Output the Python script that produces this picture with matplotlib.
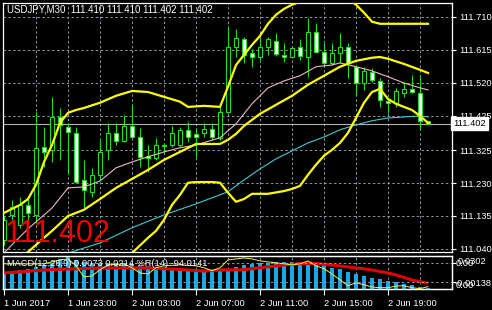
import matplotlib
matplotlib.use("Agg")
import matplotlib.pyplot as plt
from matplotlib.transforms import blended_transform_factory

plt.rcParams['font.family'] = ['Liberation Sans', 'DejaVu Sans']

# ---------------- data ----------------
header_text = "USDJPY,M30  111.410 111.410 111.402 111.402"
big_price_text = "111.402"
last_price = 111.402
macd_text = "MACD(12,26,9) 0.0073 0.0214 %R(14) -94.0141"

price_ticks = [111.710, 111.615, 111.520, 111.425, 111.325, 111.230, 111.135, 111.040]
time_tick_idx = [0, 8, 16, 24, 32, 40, 48]
time_tick_labels = ["1 Jun 2017", "1 Jun 23:00", "2 Jun 03:00", "2 Jun 07:00",
                    "2 Jun 11:00", "2 Jun 15:00", "2 Jun 19:00"]

opens = [111.066, 111.138, 111.109, 111.167, 111.138, 111.335, 111.326, 111.421, 111.392, 111.375,
         111.239, 111.205, 111.254, 111.326, 111.375, 111.352, 111.395, 111.363, 111.309, 111.303,
         111.337, 111.340, 111.340, 111.384, 111.372, 111.375, 111.387, 111.361, 111.436, 111.623,
         111.646, 111.606, 111.594, 111.623, 111.641, 111.600, 111.594, 111.623, 111.594, 111.667,
         111.609, 111.577, 111.606, 111.623, 111.566, 111.519, 111.551, 111.525, 111.467, 111.462,
         111.491, 111.502, 111.491, 111.410]
highs = [111.138, 111.181, 111.190, 111.190, 111.436, 111.392, 111.479, 111.447, 111.404, 111.392,
         111.297, 111.274, 111.355, 111.404, 111.404, 111.427, 111.456, 111.389, 111.340, 111.361,
         111.346, 111.395, 111.392, 111.407, 111.389, 111.404, 111.404, 111.450, 111.681, 111.675,
         111.652, 111.618, 111.649, 111.652, 111.664, 111.635, 111.623, 111.646, 111.707, 111.693,
         111.635, 111.635, 111.664, 111.635, 111.571, 111.566, 111.563, 111.534, 111.476, 111.505,
         111.522, 111.542, 111.542, 111.410]
lows = [111.052, 111.124, 111.100, 111.124, 111.115, 111.277, 111.291, 111.297, 111.259, 111.231,
        111.158, 111.190, 111.239, 111.297, 111.340, 111.349, 111.361, 111.277, 111.262, 111.297,
        111.317, 111.335, 111.335, 111.349, 111.306, 111.363, 111.355, 111.355, 111.433, 111.594,
        111.577, 111.566, 111.586, 111.600, 111.597, 111.580, 111.592, 111.586, 111.537, 111.606,
        111.566, 111.571, 111.577, 111.534, 111.485, 111.499, 111.522, 111.450, 111.433, 111.450,
        111.479, 111.490, 111.384, 111.402]
closes = [111.124, 111.161, 111.167, 111.144, 111.332, 111.320, 111.421, 111.398, 111.378, 111.233,
          111.210, 111.254, 111.320, 111.375, 111.352, 111.395, 111.363, 111.306, 111.303, 111.340,
          111.340, 111.375, 111.384, 111.363, 111.363, 111.387, 111.363, 111.436, 111.623, 111.649,
          111.600, 111.594, 111.623, 111.646, 111.603, 111.594, 111.620, 111.597, 111.667, 111.609,
          111.577, 111.606, 111.623, 111.577, 111.519, 111.554, 111.528, 111.470, 111.462, 111.496,
          111.502, 111.493, 111.410, 111.402]

bb_upper_idx = [0, 2, 3, 4, 5, 6, 7, 8, 9, 10, 12, 14, 16, 18, 20, 22, 23, 25, 27, 28, 29, 30, 31,
                32, 33, 34, 35, 36, 37, 38, 40, 42, 43, 44, 45, 46, 47, 50, 53]
bb_upper = [111.144, 111.167, 111.184, 111.225, 111.291, 111.340, 111.404, 111.433, 111.441, 111.447,
            111.462, 111.482, 111.496, 111.493, 111.479, 111.465, 111.450, 111.453, 111.450, 111.508,
            111.571, 111.600, 111.629, 111.655, 111.690, 111.716, 111.733, 111.745, 111.753, 111.768,
            111.774, 111.774, 111.762, 111.745, 111.722, 111.696, 111.690, 111.690, 111.690]

bb_mid_idx = [2, 3, 5, 6, 8, 10, 12, 14, 16, 18, 20, 22, 24, 26, 27, 28, 29, 30, 32, 34, 36, 38, 40,
              42, 44, 46, 47, 48, 50, 52, 53]
bb_mid = [111.014, 111.031, 111.072, 111.092, 111.135, 111.153, 111.184, 111.216, 111.242, 111.268,
          111.297, 111.320, 111.343, 111.343, 111.343, 111.355, 111.372, 111.395, 111.430, 111.456,
          111.482, 111.514, 111.540, 111.566, 111.583, 111.592, 111.594, 111.589, 111.574, 111.557,
          111.548]

bb_low_idx = [15, 16, 18, 19, 20, 21, 22, 23, 24, 26, 27, 28, 29, 30, 31, 33, 35, 36, 37, 38, 39, 40,
              41, 42, 43, 44, 45, 46, 47, 48, 49, 50, 51, 52, 53]
bb_low = [111.005, 111.028, 111.072, 111.092, 111.124, 111.167, 111.196, 111.231, 111.233, 111.233,
          111.231, 111.202, 111.176, 111.184, 111.199, 111.199, 111.207, 111.213, 111.222, 111.254,
          111.283, 111.309, 111.326, 111.346, 111.375, 111.418, 111.462, 111.493, 111.502, 111.473,
          111.459, 111.450, 111.441, 111.424, 111.404]

ma_pink_idx = [0, 1, 3, 5, 6, 8, 10, 12, 14, 16, 18, 20, 22, 24, 27, 29, 31, 33, 35, 37, 39, 41, 42,
               44, 46, 48, 50, 52, 53]
ma_pink = [111.028, 111.052, 111.098, 111.138, 111.158, 111.216, 111.219, 111.236, 111.274, 111.291,
           111.306, 111.320, 111.332, 111.340, 111.361, 111.401, 111.459, 111.505, 111.525, 111.540,
           111.566, 111.571, 111.577, 111.566, 111.554, 111.537, 111.519, 111.505, 111.499]

ma_cyan_idx = [7, 8, 12, 16, 20, 24, 28, 30, 32, 34, 36, 38, 40, 42, 44, 46, 48, 50, 52, 53]
ma_cyan = [111.010, 111.028, 111.057, 111.101, 111.138, 111.170, 111.205, 111.239, 111.271, 111.300,
           111.323, 111.346, 111.363, 111.384, 111.398, 111.410, 111.418, 111.421, 111.424, 111.421]

macd_hist = [0.0187, 0.0194, 0.0205, 0.0216, 0.0234, 0.0256, 0.0284, 0.0327, 0.0342, 0.0313,
             0.0295, 0.0284, 0.0284, 0.0278, 0.0284, 0.0284, 0.0273, 0.0262, 0.0252, 0.0238,
             0.0227, 0.0216, 0.0208, 0.0202, 0.0194, 0.0191, 0.0187, 0.0191, 0.0219, 0.0241,
             0.0259, 0.0270, 0.0278, 0.0281, 0.0288, 0.0288, 0.0288, 0.0288, 0.0295, 0.0278,
             0.0259, 0.0230, 0.0216, 0.0187, 0.0159, 0.0144, 0.0122, 0.0105, 0.0086, 0.0072,
             0.0057, 0.0043, 0.0025, 0.0014]
macd_sig_idx = [0, 5, 8, 12, 18, 22, 25, 27, 30, 32, 35, 37, 39, 41, 43, 45, 46, 48, 49, 51, 53]
macd_sig = [0.0173, 0.0205, 0.0216, 0.0227, 0.0227, 0.0211, 0.0194, 0.0205, 0.0208, 0.0230, 0.0259,
            0.0275, 0.0275, 0.0259, 0.0238, 0.0218, 0.0205, 0.0173, 0.0151, 0.0097, 0.0062]

wpr_idx = [0, 2, 5, 7, 8, 9, 10, 11, 12, 13, 15, 16, 17, 18, 19, 20, 22, 24, 25, 26, 27, 28, 29, 30,
           31, 32, 33, 34, 35, 36, 37, 38, 39, 40, 41, 42, 43, 44, 45, 46, 47, 48, 49, 50, 51, 52, 53]
wpr = [-24, -24, -24, -12, -9, -30, -64, -61, -42, -27, -24, -36, -52, -55, -36, -30, -27, -30, -36,
       -45, -36, -12, -9, -6, -9, -15, -18, -21, -24, -27, -24, -15, -30, -39, -55, -73, -91, -82,
       -88, -95, -97, -97, -92, -91, -97, -100, -94.0141]
wpr_levels = [-20, -80]
macd_right_labels = ["0.0302", "0.00", "-0.00138", "0.00"]

# ---------------- style ----------------
W, H = 492, 310
LIME = '#1EE01E'
YELLOW = '#FFFF00'
GRID = '#8f97a3'
FS = 6.7

fig = plt.figure(figsize=(W / 100, H / 100), dpi=100, facecolor='black')


def px_axes(l, t, r, b):
    return fig.add_axes([l / W, 1 - b / H, (r - l) / W, (b - t) / H])


ax = px_axes(3, 3, 452, 252)
mx = px_axes(3, 256, 452, 289)

for a in (ax, mx):
    a.set_facecolor('black')
    for s in a.spines.values():
        s.set_color('white')
        s.set_linewidth(0.9)
    a.set_xlim(-0.125, 56)

# main window
ax.set_ylim(111.031, 111.750)
grid_x = list(range(4, 53, 4))
for gx in grid_x:
    ax.axvline(gx, color=GRID, lw=0.7, ls=(0, (2.5, 2.5)), zorder=0.5)
    mx.axvline(gx, color=GRID, lw=0.7, ls=(0, (2.5, 2.5)), zorder=0.5)
for gy in price_ticks:
    ax.axhline(gy, color=GRID, lw=0.7, ls=(0, (2.5, 2.5)), zorder=0.5)
ax.axhline(last_price, color='#b4b4b4', lw=0.8, zorder=0.6)

idx = list(range(len(opens)))
for i, o, h, l, c in zip(idx, opens, highs, lows, closes):
    ax.vlines(i, l, h, color=LIME, lw=0.8, zorder=2)
bottoms = [min(o, c) for o, c in zip(opens, closes)]
heights = [max(abs(c - o), 0.0008) for o, c in zip(opens, closes)]
faces = ['black' if c > o else 'white' for o, c in zip(opens, closes)]
ax.bar(idx, heights, bottom=bottoms, width=0.5, color=faces, edgecolor=LIME,
       linewidth=0.8, zorder=2.5)

ax.plot(ma_cyan_idx, ma_cyan, color='#44c8d4', lw=0.8, zorder=3)
ax.plot(ma_pink_idx, ma_pink, color='#eab8c4', lw=0.8, zorder=3)
ax.plot(bb_upper_idx, bb_upper, color=YELLOW, lw=1.6, zorder=3.2)
ax.plot(bb_mid_idx, bb_mid, color=YELLOW, lw=1.6, zorder=3.2)
ax.plot(bb_low_idx, bb_low, color=YELLOW, lw=1.6, zorder=3.2)

ax.yaxis.tick_right()
ax.set_yticks(price_ticks)
ax.set_yticklabels([f"{v:.3f}" for v in price_ticks])
ax.tick_params(axis='y', colors='white', labelcolor='white', labelsize=FS,
               length=3, width=0.8, pad=2, direction='out')
ax.tick_params(axis='x', bottom=False, labelbottom=False)

tr = blended_transform_factory(ax.transAxes, ax.transData)
ax.text(1.0 + 1 / 449, last_price, big_price_text, transform=tr, color='black',
        fontsize=FS, va='center', ha='left', zorder=10,
        bbox=dict(boxstyle='square,pad=0.25', fc='white', ec='white'))

fig.text(7 / W, 1 - 10 / H, header_text, color='white', fontsize=7, va='center', ha='left')
fig.text(5 / W, 1 - 242 / H, big_price_text, color='#ee0000', fontsize=22,
         va='baseline', ha='left', zorder=20)

# MACD window
mx.bar(idx, macd_hist, width=0.55, color='#18a8e6', zorder=2)
mx.plot(macd_sig_idx, macd_sig, color='#e00000', lw=2.2, zorder=3, solid_capstyle='butt')
mx.set_ylim(0, 0.0356)
mx.set_yticks([])
mx.set_xticks(time_tick_idx)
mx.set_xticklabels(time_tick_labels)
for lab in mx.get_xticklabels():
    lab.set_horizontalalignment('left')
mx.tick_params(axis='x', colors='white', labelcolor='white', labelsize=FS,
               length=4, width=0.8, pad=3, direction='out')

wx = mx.twinx()
wx.set_ylim(-101, 0)
wx.set_xlim(-0.125, 56)
for s in wx.spines.values():
    s.set_color('white')
    s.set_linewidth(0.9)
for lv in wpr_levels:
    wx.axhline(lv, color=GRID, lw=0.7, ls=(0, (2.5, 2.5)), zorder=1)
wx.plot(wpr_idx, wpr, color='#f0f050', lw=0.7, zorder=4)
wx.set_yticks(wpr_levels)
wx.set_yticklabels(['', ''])
wx.tick_params(axis='y', colors='white', length=3, width=0.8, direction='out')

fig.text(7 / W, 1 - 264 / H, macd_text, color='white', fontsize=FS, va='center', ha='left', zorder=30)
fig.text(458 / W, 1 - 261 / H, macd_right_labels[0], color='white', fontsize=FS, va='center', ha='left')
fig.text(456 / W, 1 - 263 / H, macd_right_labels[1], color='white', fontsize=FS, va='center', ha='left')
fig.text(455 / W, 1 - 283 / H, macd_right_labels[2], color='white', fontsize=FS, va='center', ha='left')
fig.text(456 / W, 1 - 286 / H, macd_right_labels[3], color='white', fontsize=FS, va='center', ha='left')

fig.savefig('out.png', dpi=100, facecolor='black')
